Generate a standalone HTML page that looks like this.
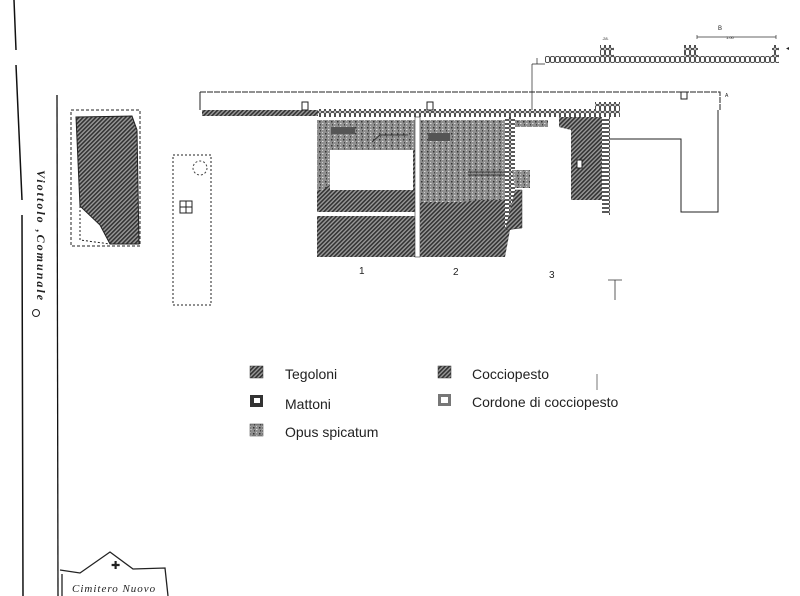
<!DOCTYPE html>
<html><head><meta charset="utf-8"><style>
html,body{margin:0;padding:0;background:#fff;}
svg{display:block;}
</style></head><body>
<svg width="800" height="596" viewBox="0 0 800 596" xmlns="http://www.w3.org/2000/svg">
<defs>
<pattern id="h" width="3" height="3" patternUnits="userSpaceOnUse" patternTransform="rotate(45)">
<rect width="3" height="3" fill="#9a9a9a"/><rect width="1.6" height="3" fill="#333"/></pattern>
<pattern id="sp" width="6" height="6" patternUnits="userSpaceOnUse">
<rect width="6" height="6" fill="#8f8f8f"/><rect x="1" y="1" width="1.5" height="1.5" fill="#333"/><rect x="4" y="3" width="1.5" height="1" fill="#ddd"/><rect x="2" y="4" width="1" height="1.5" fill="#444"/><rect x="4" y="0" width="1" height="1" fill="#ccc"/></pattern>
<pattern id="br" width="5" height="7" patternUnits="userSpaceOnUse">
<rect width="5" height="7" fill="#fff"/><rect x="0.6" y="0.5" width="3.8" height="6" rx="1.2" fill="none" stroke="#222" stroke-width="0.8"/></pattern>
<pattern id="brv" width="10" height="4" patternUnits="userSpaceOnUse">
<rect width="10" height="4" fill="#fff"/><rect x="0.5" y="0.5" width="9" height="3" rx="1" fill="none" stroke="#222" stroke-width="0.8"/></pattern>
</defs>
<g stroke="#111" fill="none">
<path d="M14 0 L16 50 M16 65 L22 200 M22 215 L23 596" stroke-width="1.5"/>
<path d="M57 95 L58 596" stroke-width="1.3"/>
</g>
<text transform="translate(37,170) rotate(90)" font-family="Liberation Serif,serif" font-style="italic" font-weight="bold" font-size="12" letter-spacing="2" fill="#222">Viottolo  ,Comunale</text>
<circle cx="36" cy="313" r="3.5" fill="none" stroke="#222"/>
<rect x="71" y="110" width="69" height="136" fill="none" stroke="#222" stroke-dasharray="3,2"/>
<path d="M76 117 L132 116 L137 130 L139 244 L110 244 L100 225 L80 206 Z" fill="url(#h)" stroke="#222"/>
<path d="M80 206 L80 240 L110 244" fill="none" stroke="#222" stroke-dasharray="2,2"/>
<rect x="173" y="155" width="38" height="150" fill="none" stroke="#222" stroke-dasharray="2,2"/>
<circle cx="200" cy="168" r="7" fill="none" stroke="#444" stroke-dasharray="2,2"/>
<rect x="180" y="201" width="12" height="12" fill="none" stroke="#222"/><path d="M180 207 H192 M186 201 V213" stroke="#222"/>
<path d="M200 92 L720 92 L720 110" fill="none" stroke="#222" stroke-dasharray="6,1"/>
<path d="M200 92 L200 110" stroke="#222"/>
<rect x="202" y="110" width="118" height="6" fill="url(#h)"/>
<rect x="318" y="109" width="302" height="8" fill="url(#br)"/>
<rect x="595" y="102" width="25" height="14" fill="url(#br)"/>
<rect x="302" y="102" width="6" height="8" fill="#fff" stroke="#222"/>
<rect x="427" y="102" width="6" height="8" fill="#fff" stroke="#222"/>
<rect x="681" y="92" width="6" height="7" fill="#fff" stroke="#222"/>
<text x="725" y="97" font-family="Liberation Sans,sans-serif" font-size="5" fill="#222">A</text>
<rect x="317" y="120" width="98" height="137" fill="url(#h)"/>
<path d="M317 120 H415 V150 H330 V185 L322 190 L317 190 Z" fill="url(#sp)"/>
<rect x="330" y="150" width="83" height="40" fill="#fff"/>
<rect x="317" y="212" width="98" height="4" fill="#fff"/>
<rect x="331" y="127" width="24" height="7" fill="#555"/>
<path d="M372 142 L380 135 L408 135" stroke="#333" fill="none"/>
<rect x="415" y="117" width="5" height="140" fill="#fff" stroke="#333" stroke-width="0.6"/>
<path d="M420 120 H510 V230 L505 257 H420 Z" fill="url(#h)"/>
<path d="M420 120 H505 V200 L480 200 L460 202 H420 Z" fill="url(#sp)"/>
<rect x="428" y="133" width="22" height="8" fill="#555"/>
<path d="M468 172 H505 M468 175 H505" stroke="#333"/>
<rect x="505" y="117" width="10" height="113" fill="url(#brv)"/>
<path d="M512 170 H530 V188 H515 Z" fill="url(#sp)"/>
<path d="M515 190 L522 190 L522 228 L505 230" fill="url(#h)" stroke="#333" stroke-width="0.5"/>
<path d="M515 120 H548 V127 H515 Z" fill="url(#sp)"/>
<path d="M559 117 H603 V200 H571 V130 L559 127 Z" fill="url(#h)"/>
<rect x="577" y="160" width="5" height="8" fill="#fff" stroke="#222"/>
<rect x="602" y="117" width="8" height="98" fill="url(#brv)"/>
<path d="M610 139 H681 V212 H718 V110" fill="none" stroke="#222"/>
<path d="M532 110 V64 M532 64 H545 M537 58 V64" stroke="#222" stroke-width="0.7"/>
<rect x="545" y="56" width="234" height="7" fill="url(#br)"/>
<rect x="600" y="45" width="14" height="11" fill="url(#br)"/>
<rect x="684" y="45" width="14" height="11" fill="url(#br)"/>
<rect x="772" y="45" width="7" height="11" fill="url(#br)"/>
<path d="M697 37 H776 M697 35 V39 M776 35 V39" stroke="#333" stroke-width="0.7"/>
<text x="718" y="30" font-family="Liberation Sans,sans-serif" font-size="6" fill="#222">B</text>
<text x="726" y="39" font-family="Liberation Sans,sans-serif" font-size="4" fill="#222">1.00</text>
<text x="602" y="40" font-family="Liberation Sans,sans-serif" font-size="4" fill="#222">.28.</text>
<text x="786" y="50" font-family="Liberation Sans,sans-serif" font-size="6" fill="#222">◂</text>
<g font-family="Liberation Sans,sans-serif" font-size="10" fill="#222">
<text x="359" y="274">1</text><text x="453" y="275">2</text><text x="549" y="278">3</text></g>
<path d="M608 280 H622 M615 280 V300" stroke="#333" stroke-width="0.8"/>
<rect x="250" y="366" width="13" height="12" fill="url(#h)" stroke="#333" stroke-width="0.5"/>
<rect x="250" y="395" width="13" height="12" fill="#333"/><rect x="254" y="398" width="6" height="5" fill="#fff"/>
<rect x="250" y="424" width="13" height="12" fill="url(#sp)" stroke="#333" stroke-width="0.5"/>
<rect x="438" y="366" width="13" height="12" fill="url(#h)" stroke="#333" stroke-width="0.5"/>
<rect x="438" y="394" width="13" height="12" fill="#777"/><rect x="441" y="397" width="7" height="6" fill="#fff"/>
<g font-family="Liberation Sans,sans-serif" font-size="14" fill="#222">
<text x="285" y="379">Tegoloni</text>
<text x="285" y="409">Mattoni</text>
<text x="285" y="437">Opus spicatum</text>
<text x="472" y="379">Cocciopesto</text>
<text x="472" y="407">Cordone di cocciopesto</text></g>
<path d="M597 374 V390" stroke="#555" stroke-width="0.8"/>
<path d="M62 574 L62 596 M60 570 L80 573 L110 552 L133 569 L165 568 L168 596" fill="none" stroke="#222" stroke-width="1.3"/>
<text x="111" y="569" font-family="Liberation Sans,sans-serif" font-size="11" fill="#222">✚</text>
<text x="72" y="592" font-family="Liberation Serif,serif" font-style="italic" font-size="11" letter-spacing="1" fill="#222">Cimitero Nuovo</text>
</svg>
</body></html>
